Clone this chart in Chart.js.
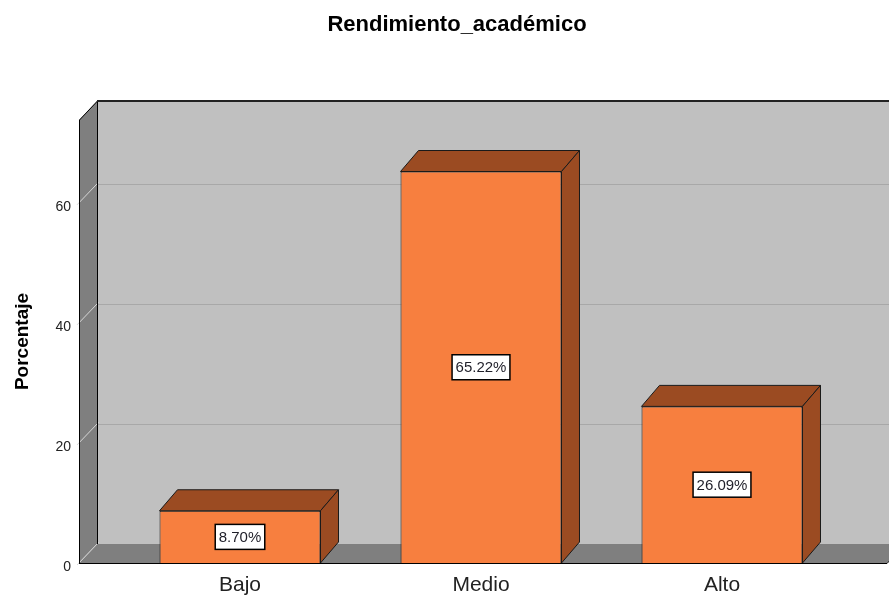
<!DOCTYPE html>
<html>
<head>
<meta charset="utf-8">
<title>Rendimiento_académico</title>
<script src="https://cdn.jsdelivr.net/npm/chart.js@4.4.1/dist/chart.umd.min.js"></script>
<style>
  html, body { margin: 0; padding: 0; background: #ffffff; }
  canvas { display: block; }
</style>
</head>
<body>
<canvas id="rendimientoChart" width="889" height="598"></canvas>
<script>
// =========================
// datos del gráfico
// =========================
const categories = ['Bajo', 'Medio', 'Alto'];
const percentages = [8.70, 65.22, 26.09];
const yTickStep = 20;
const yMax = 73.8;

const FONT = "'Liberation Sans', Arial, sans-serif";

// profundidad del efecto 3D (pixeles)
const WALL_DX = 18, WALL_DY = -19;
const BAR_DX = 18, BAR_DY = -21;
const FRONT_LEFT_GAP = 40.5;   // desde el eje hasta la primera categoria
const FRONT_RIGHT_GAP = 44.5;

// =========================
// paredes, suelo y lineas de cuadricula
// =========================
const wallsPlugin = {
    id: 'walls3d',
    beforeDatasetsDraw(chart) {
        const ctx = chart.ctx;
        const area = chart.chartArea;
        const yScale = chart.scales.y;
        const fl = area.left - FRONT_LEFT_GAP;
        const fr = area.right + FRONT_RIGHT_GAP;
        const top = area.top, bottom = area.bottom;

        ctx.save();
        // pared del fondo
        ctx.fillStyle = '#c0c0c0';
        ctx.fillRect(fl + WALL_DX, top + WALL_DY, fr - fl + 40, bottom - top);

        // lineas de cuadricula en la pared del fondo
        ctx.strokeStyle = '#a8a8a8';
        ctx.lineWidth = 1;
        yScale.ticks.forEach((t) => {
            if (t.value === 0) return;
            const y = Math.round(yScale.getPixelForValue(t.value) + WALL_DY) + 0.5;
            ctx.beginPath();
            ctx.moveTo(fl + WALL_DX, y);
            ctx.lineTo(chart.width + 40, y);
            ctx.stroke();
        });

        // pared izquierda
        ctx.fillStyle = '#7f7f7f';
        ctx.beginPath();
        ctx.moveTo(fl, top);
        ctx.lineTo(fl + WALL_DX, top + WALL_DY);
        ctx.lineTo(fl + WALL_DX, bottom + WALL_DY);
        ctx.lineTo(fl, bottom);
        ctx.closePath();
        ctx.fill();

        // suelo
        ctx.beginPath();
        ctx.moveTo(fl, bottom);
        ctx.lineTo(fl + WALL_DX, bottom + WALL_DY);
        ctx.lineTo(fr + WALL_DX, bottom + WALL_DY);
        ctx.lineTo(fr, bottom);
        ctx.closePath();
        ctx.fill();

        // marcas diagonales de los ticks
        ctx.strokeStyle = '#d6d6d6';
        yScale.ticks.forEach((t) => {
            const y = yScale.getPixelForValue(t.value);
            ctx.beginPath();
            ctx.moveTo(fl - 2, y + 2);
            ctx.lineTo(fl + WALL_DX + 2, y + WALL_DY - 2);
            ctx.stroke();
        });

        // bordes
        ctx.strokeStyle = '#000000';
        ctx.lineWidth = 1;
        ctx.beginPath();
        ctx.moveTo(fl + 0.5, bottom);
        ctx.lineTo(fl + 0.5, top);
        ctx.lineTo(fl + WALL_DX + 0.5, top + WALL_DY);
        ctx.lineTo(fl + WALL_DX + 0.5, bottom + WALL_DY);
        ctx.stroke();
        ctx.beginPath();
        ctx.moveTo(fl, bottom + 0.5);
        ctx.lineTo(fr, bottom + 0.5);
        ctx.lineTo(fr + WALL_DX, bottom + WALL_DY);
        ctx.stroke();
        ctx.lineWidth = 2;
        ctx.strokeStyle = '#222222';
        ctx.beginPath();
        ctx.moveTo(fl + WALL_DX, top + WALL_DY);
        ctx.lineTo(chart.width + 40, top + WALL_DY);
        ctx.stroke();
        ctx.restore();
    }
};

// =========================
// caras superior y lateral de las barras, y etiquetas
// =========================
const bars3dPlugin = {
    id: 'bars3d',
    afterDatasetsDraw(chart) {
        const ctx = chart.ctx;
        const meta = chart.getDatasetMeta(0);
        ctx.save();
        ctx.lineWidth = 1;
        ctx.strokeStyle = '#1a1a1a';
        ctx.fillStyle = '#9b4b22';
        meta.data.forEach((bar) => {
            const x1 = bar.x - bar.width / 2;
            const x2 = bar.x + bar.width / 2;
            const yt = bar.y, yb = bar.base;
            // cara superior
            ctx.beginPath();
            ctx.moveTo(x1, yt);
            ctx.lineTo(x1 + BAR_DX, yt + BAR_DY);
            ctx.lineTo(x2 + BAR_DX, yt + BAR_DY);
            ctx.lineTo(x2, yt);
            ctx.closePath();
            ctx.fill();
            ctx.stroke();
            // cara lateral
            ctx.beginPath();
            ctx.moveTo(x2, yt);
            ctx.lineTo(x2 + BAR_DX, yt + BAR_DY);
            ctx.lineTo(x2 + BAR_DX, yb + BAR_DY);
            ctx.lineTo(x2, yb);
            ctx.closePath();
            ctx.fill();
            ctx.stroke();
        });

        // etiquetas de porcentaje
        ctx.font = '15px ' + FONT;
        ctx.textAlign = 'center';
        ctx.textBaseline = 'middle';
        meta.data.forEach((bar, i) => {
            const text = percentages[i].toFixed(2) + '%';
            const w = ctx.measureText(text).width + 7;
            const h = 25;
            const cx = bar.x;
            const cy = (bar.y + bar.base) / 2;
            ctx.fillStyle = '#ffffff';
            ctx.fillRect(cx - w / 2, cy - h / 2, w, h);
            ctx.strokeStyle = '#000000';
            ctx.lineWidth = 1.5;
            ctx.strokeRect(cx - w / 2, cy - h / 2, w, h);
            ctx.fillStyle = '#1e1e28';
            ctx.fillText(text, cx, cy + 1);
        });
        ctx.restore();
    }
};

// =========================
// crear el gráfico
// =========================
const ctx = document.getElementById('rendimientoChart').getContext('2d');
const chart = new Chart(ctx, {
    type: 'bar',
    data: {
        labels: categories,
        datasets: [{
            label: 'Porcentaje',
            data: percentages,
            backgroundColor: '#f77f3f',
            borderColor: '#1a1a1a',
            borderWidth: 1,
            barPercentage: 0.668,
            categoryPercentage: 1
        }]
    },
    options: {
        responsive: false,
        animation: false,
        devicePixelRatio: 1,
        layout: { padding: { left: 0, right: -25, top: 0, bottom: 0 } },
        plugins: {
            legend: { display: false },
            tooltip: { enabled: false },
            title: {
                display: true,
                text: 'Rendimiento_académico',
                color: '#000000',
                font: { family: FONT, size: 22, weight: 'bold' },
                padding: { top: 12, bottom: 81.6 }
            }
        },
        scales: {
            x: {
                grid: { display: false, drawTicks: false },
                border: { display: false },
                ticks: {
                    color: '#222222',
                    font: { family: FONT, size: 21 },
                    padding: 10
                },
                afterFit: (s) => { s.height = 35; }
            },
            y: {
                min: 0,
                max: yMax,
                grid: { display: false, drawTicks: true, tickLength: 46.5 },
                border: { display: false },
                ticks: {
                    stepSize: yTickStep,
                    includeBounds: false,
                    color: '#222222',
                    font: { family: FONT, size: 14 },
                    padding: 2,
                    labelOffset: 4
                },
                title: {
                    display: true,
                    text: 'Porcentaje',
                    color: '#000000',
                    font: { family: FONT, size: 19, weight: 'bold' },
                    padding: { top: 11, bottom: 0 }
                },
                afterFit: (s) => { s.width = 119.5; }
            },
            yR: {
                type: 'linear',
                position: 'right',
                grid: { display: false, drawTicks: false },
                border: { display: false },
                ticks: { display: false },
                afterFit: (s) => { s.width = 71.5; }
            }
        }
    },
    plugins: [wallsPlugin, bars3dPlugin]
});
</script>
</body>
</html>
